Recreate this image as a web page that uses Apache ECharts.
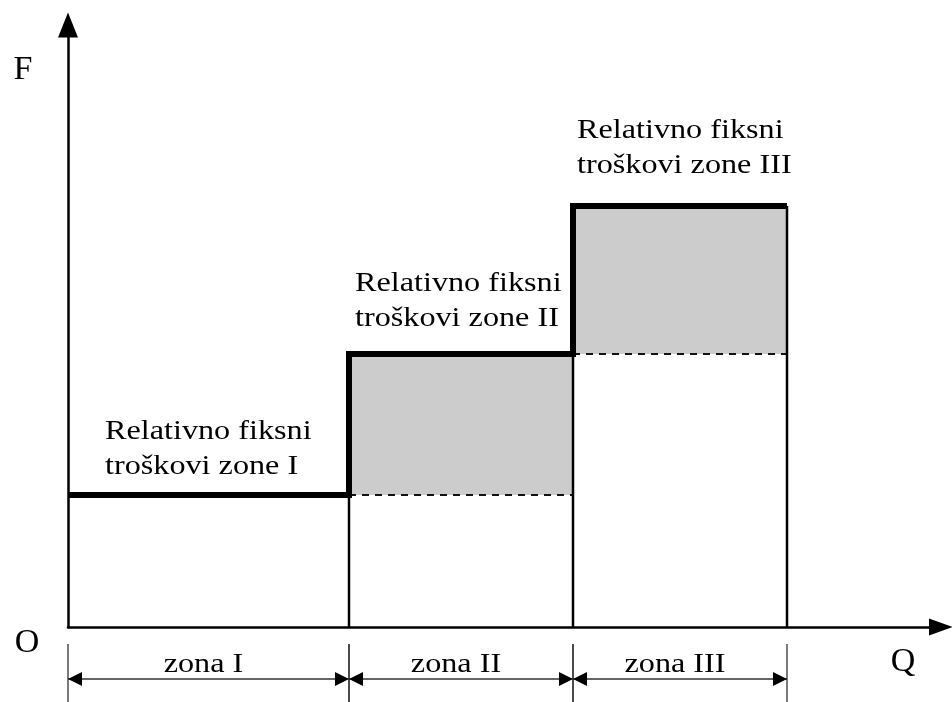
<!DOCTYPE html>
<html><head><meta charset="utf-8">
<script src="https://cdn.jsdelivr.net/npm/echarts@6/dist/echarts.min.js"></script>
<style>html,body{margin:0;padding:0;background:#fff}#c{width:952px;height:702px}</style>
</head><body><div id="c"></div>
<script>
// ---- data ----
const zoneNames = ['zona I', 'zona II', 'zona III'];
const zoneStart = [0, 2.81, 5.05];        // Q
const zoneEnd = [2.81, 5.05, 7.19];       // Q
const fixedCost = [1.32, 2.73, 4.21];     // F
const costLabels = ['Relativno fiksni\ntroškovi zone I', 'Relativno fiksni\ntroškovi zone II', 'Relativno fiksni\ntroškovi zone III'];
const axisNames = ['F', 'O', 'Q'];

// ---- layout (annotation anchors, in axis units) ----
const costLabelAnchor = [[0.37, 1.78], [2.87, 3.26], [5.09, 4.79]];
const axisNameAnchor = [[-0.45, 5.57], [-0.41, -0.16], [8.35, -0.35]];
const dimLevel = -0.52, dimTop = -0.17, dimBottom = -0.76, zoneLabelLevel = -0.38;
const textFont = '"Liberation Serif", "Times New Roman", serif';
const stretch = 1.15;

const stepPts = [];
zoneStart.forEach((x0, i) => { stepPts.push([x0, fixedCost[i]], [zoneEnd[i], fixedCost[i]]); });
const zoneData = zoneStart.map((x0, i) => [x0, zoneEnd[i], fixedCost[i], i > 0 ? fixedCost[i - 1] : 0]);

const chart = echarts.init(document.getElementById('c'), null, {renderer: 'canvas'});
chart.setOption({
  animation: false,
  backgroundColor: '#fff',
  grid: {left: 68, right: 11, top: 25, bottom: 75},
  xAxis: {type: 'value', min: 0, max: 8.73,
    axisLine: {show: true, onZero: false, symbol: ['none', 'triangle'], symbolSize: [17, 24], lineStyle: {color: '#000', width: 2.5}},
    axisTick: {show: false}, axisLabel: {show: false}, splitLine: {show: false}},
  yAxis: {type: 'value', min: 0, max: 6.02,
    axisLine: {show: true, onZero: false, symbol: ['none', 'triangle'], symbolSize: [20, 25], lineStyle: {color: '#000', width: 2.5}},
    axisTick: {show: false}, axisLabel: {show: false}, splitLine: {show: false}},
  series: [
    {
      type: 'custom', z: 1, clip: false,
      data: zoneData,
      encode: {x: [0, 1], y: [2, 3]},
      renderItem: function (params, api) {
        const i = params.dataIndex;
        const x0 = api.value(0), x1 = api.value(1), lv = api.value(2), prev = api.value(3);
        const p = (x, y) => api.coord([x, y]);
        const ch = [];
        if (i > 0) {
          const a = p(x0, lv), b = p(x1, prev);
          ch.push({type: 'rect', shape: {x: a[0], y: a[1], width: b[0] - a[0], height: b[1] - a[1]}, style: {fill: '#cccccc'}});
          ch.push({type: 'line', shape: {x1: a[0], y1: b[1], x2: b[0], y2: b[1]}, style: {stroke: '#111', lineWidth: 1.8, lineDash: [7, 6]}});
        }
        const v0 = p(x1, 0), v1 = p(x1, lv);
        ch.push({type: 'line', shape: {x1: v0[0], y1: v0[1], x2: v1[0], y2: v1[1]}, style: {stroke: '#000', lineWidth: 2.5}});
        // dimension line
        const d0 = p(x0, dimLevel), d1 = p(x1, dimLevel);
        const t0 = p(x0, dimTop)[1], t1 = p(x0, dimBottom)[1];
        [d0[0], d1[0]].forEach(X => ch.push({type: 'line', shape: {x1: X, y1: t0, x2: X, y2: t1}, style: {stroke: '#333', lineWidth: 1.3}}));
        ch.push({type: 'line', shape: {x1: d0[0], y1: d0[1], x2: d1[0], y2: d1[1]}, style: {stroke: '#333', lineWidth: 1.5}});
        const Y = d0[1], L = 14, H = 7;
        ch.push({type: 'polygon', shape: {points: [[d0[0], Y], [d0[0] + L, Y - H], [d0[0] + L, Y + H]]}, style: {fill: '#000'}});
        ch.push({type: 'polygon', shape: {points: [[d1[0], Y], [d1[0] - L, Y - H], [d1[0] - L, Y + H]]}, style: {fill: '#000'}});
        const zl = p((x0 + x1) / 2, zoneLabelLevel);
        ch.push({type: 'text', x: zl[0] - 5, y: zl[1], scaleX: stretch,
          style: {text: zoneNames[i], fontSize: 28, fontFamily: textFont, fill: '#000', align: 'center', verticalAlign: 'middle'}});
        const cl = p(costLabelAnchor[i][0], costLabelAnchor[i][1]);
        ch.push({type: 'text', x: cl[0], y: cl[1], scaleX: stretch,
          style: {text: costLabels[i], fontSize: 28, lineHeight: 35, fontFamily: textFont, fill: '#000', align: 'left', verticalAlign: 'middle'}});
        return {type: 'group', children: ch};
      }
    },
    {
      type: 'line', z: 3, data: stepPts, symbol: 'none', silent: true,
      lineStyle: {color: '#000', width: 6, join: 'miter', cap: 'butt'}
    },
    {
      type: 'custom', z: 4, clip: false,
      data: axisNameAnchor.map((a, i) => [a[0], a[1], i]),
      renderItem: function (params, api) {
        const pt = api.coord([api.value(0), api.value(1)]);
        return {type: 'text', x: pt[0], y: pt[1],
          style: {text: axisNames[params.dataIndex], fontSize: 34, fontFamily: textFont, fill: '#000', align: 'center', verticalAlign: 'middle'}};
      }
    }
  ]
});
</script></body></html>
